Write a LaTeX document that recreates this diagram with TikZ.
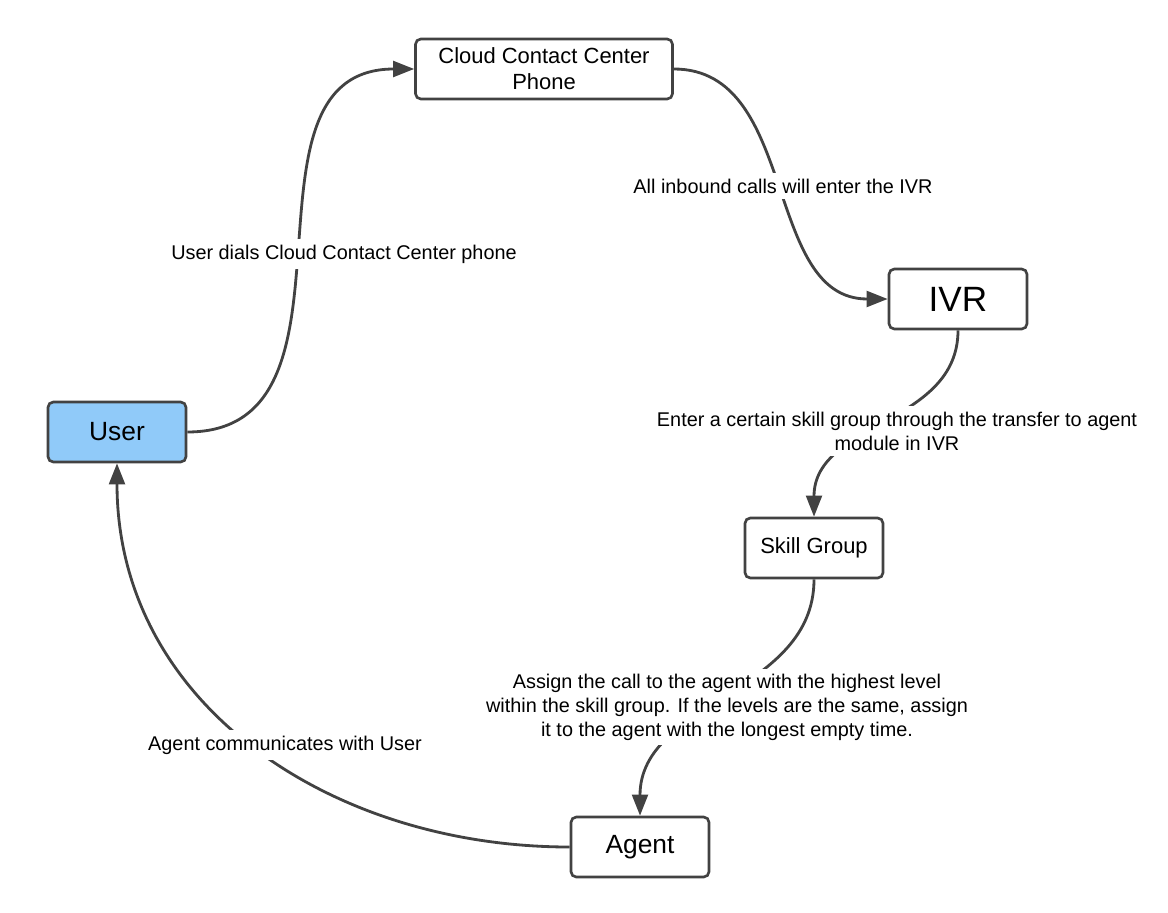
\documentclass[tikz,border=0pt]{standalone}
\usepackage{fontspec}
\setmainfont{Liberation Sans}
\usetikzlibrary{arrows.meta,positioning}
\definecolor{edgegray}{HTML}{424242}
\definecolor{userblue}{HTML}{90CAF9}

\begin{document}
\begin{tikzpicture}[x=0.02cm, y=-0.02cm,
    box/.style={draw=edgegray, line width=1.5pt, rounded corners=3pt, fill=white,
        minimum width=2.76cm, minimum height=1.2cm, inner sep=0pt, align=center},
    conn/.style={draw=edgegray, line width=1.6pt, -{Triangle[length=12pt,width=9pt]}},
    lbl/.style={fill=white, inner sep=3pt, align=center, font=\fontsize{11.3}{13.6}\selectfont}]

    \useasboundingbox (0,0) rectangle (1168,912);

    % --- Boxes ---
    \node[box, fill=userblue, font=\fontsize{15}{18}\selectfont] (user) at (117,432) {User};
    \node[box, minimum width=5.14cm, font=\fontsize{12.5}{14.7}\selectfont] (cloud) at (544,69) {Cloud Contact Center\\Phone};
    \node[box, font=\fontsize{20}{24}\selectfont] (ivr) at (958,299) {IVR};
    \node[box, font=\fontsize{12.5}{15}\selectfont] (skill) at (814,548) {Skill Group};
    \node[box, font=\fontsize{15}{18}\selectfont] (agent) at (640,847) {Agent};

    % --- Connectors ---
    \draw[conn] (user.east) .. controls +(190,0) and +(-190,0) .. (cloud.west);
    \draw[conn] (cloud.east) .. controls +(125,0) and +(-125,0) .. (ivr.west);
    \draw[conn] (ivr.south) .. controls +(0,95) and +(0,-95) .. (skill.north);
    \draw[conn] (skill.south) .. controls +(0,115) and +(0,-115) .. (agent.north);
    \draw[conn] (agent.west) .. controls +(-240,0) and +(0,240) .. (user.south);

    % --- Labels ---
    \node[lbl] (dialLbl) at (344,254) {User dials Cloud Contact Center phone};
    \node[lbl] (ivrLbl) at (783,186) {All inbound calls will enter the IVR};
    \node[lbl] (skillLbl) at (897,431) {Enter a certain skill group through the transfer to agent\\module in IVR};
    \node[lbl] (assignLbl) at (727,707) {Assign the call to the agent with the highest level\\within the skill group. If the levels are the same, assign\\it to the agent with the longest empty time.};
    \node[lbl] (talkLbl) at (285,745) {Agent communicates with User};
\end{tikzpicture}
\end{document}
